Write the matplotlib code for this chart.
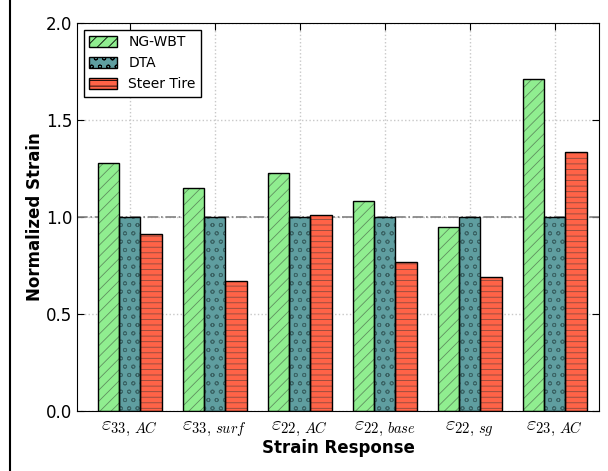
import numpy as np
import matplotlib.pyplot as plt
from matplotlib.lines import Line2D

plt.rcParams['mathtext.fontset'] = 'cm'
plt.rcParams['hatch.linewidth'] = 0.6

# Strain responses normalized by the DTA result
respostas = [r'$\varepsilon_{33,\,AC}$', r'$\varepsilon_{33,\,surf}$', r'$\varepsilon_{22,\,AC}$',
             r'$\varepsilon_{22,\,base}$', r'$\varepsilon_{22,\,sg}$', r'$\varepsilon_{23,\,AC}$']
ng_wbt = [1.28, 1.15, 1.225, 1.08, 0.95, 1.71]
dta = [1.0, 1.0, 1.0, 1.0, 1.0, 1.0]
steer = [0.91, 0.67, 1.01, 0.77, 0.69, 1.335]

# nome, valores, cor, hachura, cor da hachura
series = [('NG-WBT', ng_wbt, '#90EE90', '///', '#5f8f5f'),
          ('DTA', dta, '#5F9EA0', 'oo', '#3b6566'),
          ('Steer Tire', steer, '#FF6347', '---', '#8a4a3e')]

ind = np.arange(len(respostas))
w = 0.25

fig = plt.figure(figsize=(6.08, 4.71), dpi=100)
ax = fig.add_axes([0.1266, 0.1274, 0.8586, 0.8238])

handles = []
for i, (nome, vals, cor, hatch, hcor) in enumerate(series):
    pos = ind + (i - 1) * w
    ax.bar(pos, vals, w, color=cor, edgecolor=hcor, hatch=hatch, linewidth=0, zorder=2)
    ax.bar(pos, vals, w, fill=False, edgecolor='black', linewidth=1.0, zorder=3)
    handles.append(plt.Rectangle((0, 0), 1, 1, facecolor=cor, edgecolor='black', hatch=hatch, linewidth=1.0))

ax.axhline(1.0, color='gray', linestyle='-.', linewidth=1.2, zorder=1)

ax.set_xlim(-0.62, 5.52)
ax.set_ylim(0, 2.0)
ax.set_xticks(ind)
ax.set_xticklabels(respostas, fontsize=15)
ax.set_yticks([0.0, 0.5, 1.0, 1.5, 2.0])
ax.tick_params(axis='y', labelsize=12)
ax.tick_params(direction='in', top=True, right=True, length=5)
ax.tick_params(axis='x', pad=6)
ax.grid(True, linestyle=':', color='#c8c8c8', linewidth=1.0, zorder=0)
ax.set_axisbelow(True)

ax.set_xlabel('Strain Response', fontsize=12, fontweight='bold', labelpad=0)
ax.set_ylabel('Normalized Strain', fontsize=12, fontweight='bold', labelpad=1)

leg = ax.legend(handles, [s[0] for s in series], loc='upper left', fontsize=10,
                fancybox=False, framealpha=1, edgecolor='black', handlelength=2.0,
                handleheight=0.9, borderaxespad=0.5, labelspacing=0.5)
leg.get_frame().set_linewidth(1.0)

fig.add_artist(Line2D([9.5 / 608, 9.5 / 608], [0, 1], color='black', linewidth=1.5,
                      transform=fig.transFigure))

fig.savefig('out.png', dpi=100)
